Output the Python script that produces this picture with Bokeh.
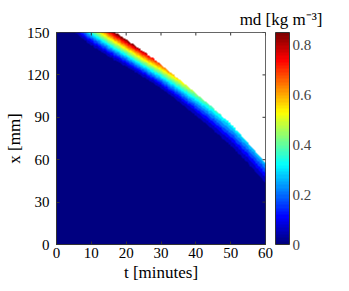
import numpy as np
from bokeh.plotting import figure
from bokeh.models import LinearColorMapper, ColorBar, FixedTicker, Title
from bokeh.embed import file_html
from bokeh.resources import INLINE

# ---- data ----
t_knots = [0, 5, 10, 15, 20, 25, 30, 35, 40, 45, 50, 55, 60]                 # t [minutes]
front_mm = [177, 169, 161, 153, 145, 136.5, 127.5, 117, 107, 96.5, 85.5, 72, 57.5]  # upper edge (white above)
edge_mm = [162, 151, 141, 133, 126, 118.5, 110.5, 101.5, 91.5, 81, 70, 57.5, 43.5]  # lower edge of coloured band
peak_val = [0.85, 0.85, 0.85, 0.85, 0.85, 0.80, 0.68, 0.55, 0.45, 0.38, 0.34, 0.31, 0.28]
x_ticks = [0, 10, 20, 30, 40, 50, 60]
y_ticks = [0, 30, 60, 90, 120, 150]
cbar_ticks = [0, 0.2, 0.4, 0.6, 0.8]
cbar_labels = ["0", "0.2", "0.4", "0.6", "0.8"]
c_low, c_high = 0.0, 0.85
n_bands = 17

FONT = "Liberation Serif"


def jet(v):
    r = min(max(1.5 - abs(4 * v - 3), 0), 1)
    g = min(max(1.5 - abs(4 * v - 2), 0), 1)
    b = min(max(1.5 - abs(4 * v - 1), 0), 1)
    return "#%02x%02x%02x" % (int(round(r * 255)), int(round(g * 255)), int(round(b * 255)))


band_colors = [jet(i / (n_bands - 1)) for i in range(n_bands)]
bar_colors = [jet(i / 63) for i in range(64)]

# ---- field on a grid ----
nt, nx = 240, 300
tg = (np.arange(nt) + 0.5) * 60.0 / nt
xg = (np.arange(nx) + 0.5) * 150.0 / nx
xf = np.interp(tg, t_knots, front_mm)
xe = np.interp(tg, t_knots, edge_mm)
pk = np.interp(tg, t_knots, peak_val)
T, X = np.meshgrid(tg, xg)
XF = np.broadcast_to(xf, T.shape)
XE = np.broadcast_to(xe, T.shape)
PK = np.broadcast_to(pk, T.shape)
s = np.clip((X - XE) / (XF - XE), 0, 1)
Z = 0.05 + (PK - 0.05) * s ** 1.2
Z = np.where(X < XE, 0.0, Z)
Z = np.where(X > XF, np.nan, Z)

p = figure(frame_width=209, frame_height=212, x_range=(0, 60), y_range=(0, 150),
           output_backend="svg", toolbar_location=None,
           min_border_left=56, min_border_top=32, min_border_bottom=39, min_border_right=76)
p.xgrid.visible = False
p.ygrid.visible = False
p.outline_line_color = "#333333"
p.background_fill_color = "white"

mapper = LinearColorMapper(palette=band_colors, low=c_low, high=c_high, nan_color="white")
p.image(image=[Z], x=0, y=0, dw=60, dh=150, color_mapper=mapper)

for ax, ticks in ((p.xaxis[0], x_ticks), (p.yaxis[0], y_ticks)):
    ax.ticker = FixedTicker(ticks=ticks)
    ax.major_tick_in = 3
    ax.major_tick_out = 0
    ax.minor_tick_line_color = None
    ax.axis_line_color = "#333333"
    ax.major_tick_line_color = "#333333"
    ax.major_label_text_font = FONT
    ax.major_label_text_font_size = "15px"
    ax.major_label_text_color = "black"
    ax.axis_label_text_font = FONT
    ax.axis_label_text_font_size = "17px"
    ax.axis_label_text_font_style = "normal"
    ax.axis_label_text_color = "black"
p.xaxis.major_label_standoff = 3
p.yaxis.major_label_standoff = 7
p.xaxis.axis_label = "t [minutes]"
p.yaxis.axis_label = "x [mm]"
p.xaxis.axis_label_standoff = 2
p.yaxis.axis_label_standoff = 0

# inward ticks on the top and right edges of the box
p.ray(x=x_ticks, y=[150] * len(x_ticks), length=3, length_units="screen",
      angle=-np.pi / 2, line_color="#333333")
p.ray(x=[60] * len(y_ticks), y=y_ticks, length=3, length_units="screen",
      angle=np.pi, line_color="#333333")

bar_mapper = LinearColorMapper(palette=bar_colors, low=c_low, high=c_high)
cb = ColorBar(color_mapper=bar_mapper, ticker=FixedTicker(ticks=cbar_ticks),
              major_label_overrides={v: l for v, l in zip(cbar_ticks, cbar_labels)},
              width=14, height=212, padding=10, margin=0, label_standoff=3,
              location="center",
              major_label_text_font=FONT, major_label_text_font_size="15px",
              major_tick_line_color=None, minor_tick_line_color=None,
              bar_line_color="#333333", background_fill_color=None,
              border_line_color=None)
p.add_layout(cb, "right")

# colour-bar title above the bar
cb_title = Title(text="md [kg m\u207b\u00b3]", align="right", offset=-57, standoff=7,
                 text_font=FONT, text_font_size="17px", text_font_style="normal",
                 text_color="black")
p.add_layout(cb_title, "above")

open("out.html", "w").write(file_html(p, INLINE))
